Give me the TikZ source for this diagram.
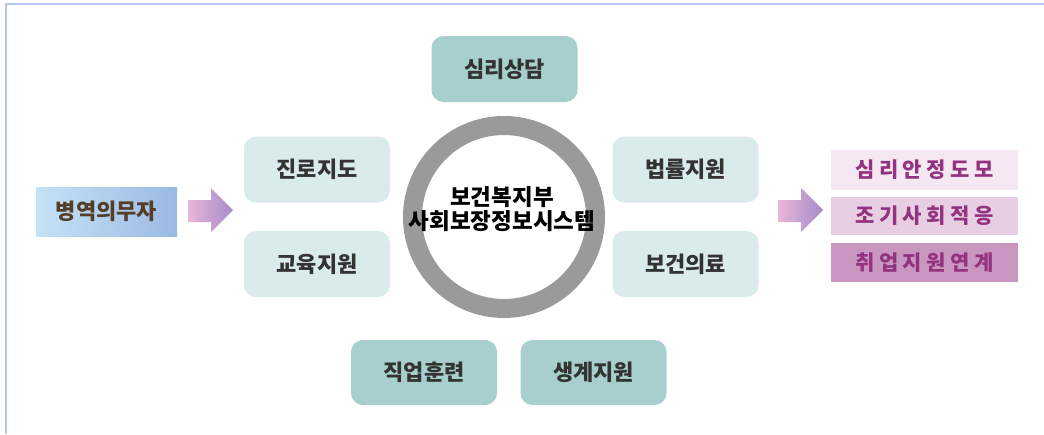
\documentclass[tikz,border=0pt]{standalone}
\usepackage{fontspec}
\newfontfamily\kr{Noto Sans CJK KR}
\definecolor{framelin}{HTML}{B4C8F4}
\definecolor{boxlight}{HTML}{D9EBEA}
\definecolor{boxdark}{HTML}{A7CFCD}
\definecolor{ringgray}{HTML}{9A9A9A}
\definecolor{txtgray}{HTML}{333333}
\definecolor{inleft}{HTML}{C4E3F6}
\definecolor{inright}{HTML}{9CB9E3}
\definecolor{intext}{HTML}{553E27}
\definecolor{arrpink}{HTML}{E8B6D8}
\definecolor{arrviolet}{HTML}{A78BCB}
\definecolor{outa}{HTML}{F6E8F2}
\definecolor{outb}{HTML}{E8CEE2}
\definecolor{outc}{HTML}{C996C1}
\definecolor{outtext}{HTML}{93337F}
\tikzset{
  svc/.style={rounded corners=12pt, minimum width=146pt, minimum height=66pt,
    inner sep=0pt, text=txtgray, font=\kr\bfseries\fontsize{22}{26}\selectfont},
  svclight/.style={svc, fill=boxlight},
  svcdark/.style={svc, fill=boxdark},
  hub/.style={circle, draw=ringgray, line width=19pt, minimum size=183pt, inner sep=0pt},
  hubtxt/.style={align=center, text=black, font=\kr\bfseries\fontsize{22.5}{24}\selectfont},
  inbox/.style={minimum width=141pt, minimum height=49pt, inner sep=0pt,
    left color=inleft, right color=inright, text=intext,
    font=\kr\bfseries\fontsize{22}{26}\selectfont},
  blockarr/.style={left color=arrpink, right color=arrviolet},
  outrow/.style={minimum width=187pt, inner sep=0pt, text=outtext,
    font=\kr\bfseries\fontsize{21}{25}\selectfont\addfontfeatures{LetterSpace=21}},
}
\begin{document}
\begin{tikzpicture}[x=1pt,y=-1pt]
\useasboundingbox (0,0) rectangle (1044,434);
\fill[white] (0,0) rectangle (1044,434);
\draw[framelin, line width=1.3pt] (6,434) -- (6,4) -- (1044,4);
% centre ring
\node[hub] (hub) at (504,217) {};
\node[hubtxt] (hubtext) at (502,209) {보건복지부\\사회보장정보시스템};
% services around the ring
\node[svcdark] (counsel) at (504.5,69) {심리상담};
\node[svclight] (career) at (317,169.5) {진로지도};
\node[svclight] (edu) at (317,264) {교육지원};
\node[svclight] (legal) at (685.5,169.5) {법률지원};
\node[svclight] (health) at (685.5,264) {보건의료};
\node[svcdark, minimum height=65pt] (jobtrain) at (424,372.5) {직업훈련};
\node[svcdark, minimum height=65pt] (living) at (593.5,372.5) {생계지원};
% input
\node[inbox] (duty) at (106.5,211.5) {병역의무자};
\shade[blockarr] (188,200) -- (211,200) -- (211,188) -- (233,210)
  -- (211,232) -- (211,222) -- (188,222) -- cycle;
\shade[blockarr] (778,200) -- (801,200) -- (801,188) -- (823,210)
  -- (801,232) -- (801,222) -- (778,222) -- cycle;
% outcomes
\node[outrow, minimum height=40pt, fill=outa] (stable) at (924.5,170) {심리안정도모};
\node[outrow, minimum height=38pt, fill=outb] (adapt) at (924.5,216) {조기사회적응};
\node[outrow, minimum height=39pt, fill=outc] (employ) at (924.5,262.5) {취업지원연계};
\end{tikzpicture}
\end{document}
